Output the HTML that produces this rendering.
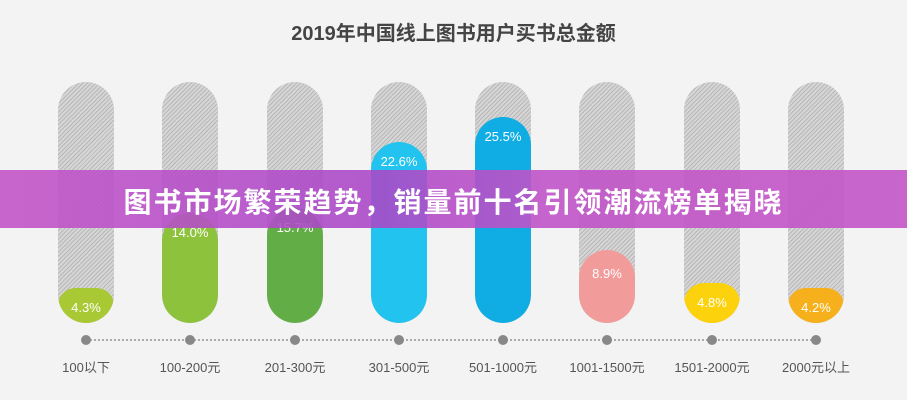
<!DOCTYPE html>
<html><head><meta charset="utf-8"><style>
body{margin:0;width:907px;height:400px;background:#f3f3f3;position:relative;overflow:hidden;font-family:"Liberation Sans","Noto Sans CJK SC",sans-serif}
.t{position:absolute;top:17px;left:0;width:907px;text-align:center;font-size:20px;font-weight:bold;color:#444}
.bar{position:absolute;top:82px;width:56px;height:241px;border-radius:28px;overflow:hidden;background:repeating-linear-gradient(135deg,#b8b8b8 0 1px,#d6d6d6 1px 3px)}
.fill{position:absolute;left:0;right:0;bottom:0;border-radius:28px;color:#fff;text-align:center;font-size:13px;padding-top:12px;box-sizing:border-box}
.dot{position:absolute;top:335px;width:10px;height:10px;border-radius:50%;background:#888}
.line{position:absolute;top:339px;left:86px;width:730px;border-top:2px dotted #aaa}
.lb{position:absolute;top:357px;width:110px;text-align:center;font-size:13px;color:#555}
.ban{position:absolute;top:170px;left:0;width:907px;height:58px;background:linear-gradient(90deg,rgba(196,86,200,.9),rgba(170,70,200,.88) 40%,rgba(192,84,200,.9) 60%,rgba(196,86,200,.9));}
.bt{position:absolute;top:181px;left:0;width:907px;text-align:center;color:#fff;font-weight:bold;font-size:28px;letter-spacing:2px}
</style></head><body>
<div class="t">2019年中国线上图书用户买书总金额</div>
<div class="line"></div>
<div class="bar" style="left:58px"><div class="fill" style="height:35px;background:#a8c834">4.3%</div></div>
<div class="bar" style="left:162px"><div class="fill" style="height:110px;background:#8dc23c">14.0%</div></div>
<div class="bar" style="left:267px"><div class="fill" style="height:115px;background:#62ad46">15.7%</div></div>
<div class="bar" style="left:371px"><div class="fill" style="height:181px;background:#22c3ee">22.6%</div></div>
<div class="bar" style="left:475px"><div class="fill" style="height:206px;background:#10ade4">25.5%</div></div>
<div class="bar" style="left:579px"><div class="fill" style="height:73px;background:#f29b9b;padding-top:16px">8.9%</div></div>
<div class="bar" style="left:684px"><div class="fill" style="height:40px;background:#fcd20c">4.8%</div></div>
<div class="bar" style="left:788px"><div class="fill" style="height:35px;background:#f6b01c">4.2%</div></div>
<div class="dot" style="left:81px"></div><div class="dot" style="left:185px"></div><div class="dot" style="left:290px"></div><div class="dot" style="left:394px"></div><div class="dot" style="left:498px"></div><div class="dot" style="left:602px"></div><div class="dot" style="left:707px"></div><div class="dot" style="left:811px"></div>
<div class="lb" style="left:31px">100以下</div>
<div class="lb" style="left:135px">100-200元</div>
<div class="lb" style="left:240px">201-300元</div>
<div class="lb" style="left:344px">301-500元</div>
<div class="lb" style="left:448px">501-1000元</div>
<div class="lb" style="left:552px">1001-1500元</div>
<div class="lb" style="left:657px">1501-2000元</div>
<div class="lb" style="left:761px">2000元以上</div>
<div class="ban"></div>
<div class="bt">图书市场繁荣趋势，销量前十名引领潮流榜单揭晓</div>
</body></html>
